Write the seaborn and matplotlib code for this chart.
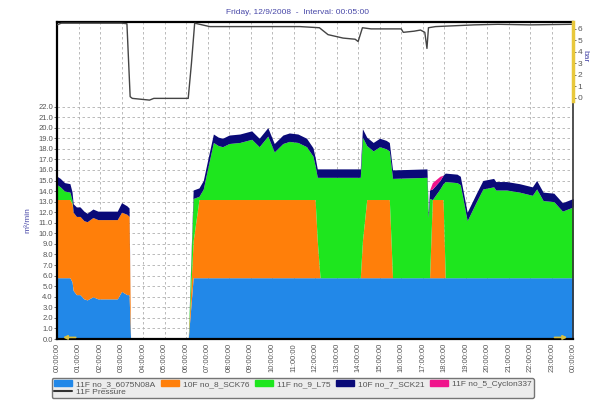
import numpy as np
import matplotlib
matplotlib.use("Agg")
import matplotlib.pyplot as plt
import seaborn as sns
from matplotlib.patches import Patch
from matplotlib.lines import Line2D

# flow readings (m3/min), hours since midnight
hours = [0, 0.15, 0.35, 0.6, 0.7, 0.75, 0.9, 1.07, 1.25, 1.4, 1.67, 1.9, 2.3, 2.8, 3.0, 3.25, 3.35, 3.42,
         6.1, 6.33, 6.6, 6.8, 7.0, 7.27, 7.5, 7.7, 8.0, 8.5, 9.05, 9.4, 9.8, 10.1, 10.5, 10.8, 11.2, 11.6,
         11.9, 12.0, 12.1, 12.23, 14.0, 14.1, 14.2, 14.4, 14.7, 15.0, 15.3, 15.45, 15.6, 17.2, 17.26,
         17.32, 17.45, 17.8, 17.95, 18.05, 18.6, 18.75, 19.07, 19.5, 19.8, 20.3, 20.4, 20.9, 21.5, 22.1,
         22.3, 22.6, 23.1, 23.5, 24.0]
no3 = [5.8, 5.8, 5.8, 5.8, 5.4, 4.6, 4.2, 4.2, 3.8, 3.7, 4.0, 3.8, 3.8, 3.8, 4.5, 4.2, 4.2, 0,
       0, 5.8, 5.8, 5.8, 5.8, 5.8, 5.8, 5.8, 5.8, 5.8, 5.8, 5.8, 5.8, 5.8, 5.8, 5.8, 5.8, 5.8,
       5.8, 5.8, 5.8, 5.8, 5.8, 5.8, 5.8, 5.8, 5.8, 5.8, 5.8, 5.8, 5.8, 5.8, 5.8,
       5.8, 5.8, 5.8, 5.8, 5.8, 5.8, 5.8, 5.8, 5.8, 5.8, 5.8, 5.8, 5.8, 5.8, 5.8,
       5.8, 5.8, 5.8, 5.8, 5.8]
no8 = [7.4, 7.4, 7.4, 7.4, 7.4, 7.4, 7.4, 7.4, 7.4, 7.4, 7.5, 7.5, 7.5, 7.5, 7.5, 7.6, 7.4, 0,
       0, 3.5, 7.4, 7.4, 7.4, 7.4, 7.4, 7.4, 7.4, 7.4, 7.4, 7.4, 7.4, 7.4, 7.4, 7.4, 7.4, 7.4,
       7.4, 7.4, 3.5, 0, 0, 0, 3.5, 7.4, 7.4, 7.4, 7.4, 7.4, 0, 0, 0,
       0, 7.4, 7.4, 7.4, 0, 0, 0, 0, 0, 0, 0, 0, 0, 0, 0,
       0, 0, 0, 0, 0]
no9 = [1.4, 1.2, 0.8, 0.7, 0.3, 0, 0, 0, 0, 0, 0, 0, 0, 0, 0, 0, 0, 0,
       0, 4.0, 0.3, 1.0, 2.9, 5.4, 5.1, 5.0, 5.3, 5.4, 5.7, 5.0, 6.0, 4.5, 5.3, 5.5, 5.4, 5.0,
       4.1, 3.2, 6.0, 9.5, 9.5, 9.5, 9.8, 5.1, 4.6, 5.0, 4.8, 4.6, 9.4, 9.5, 5.7,
       7.5, 0, 1.0, 1.5, 9.1, 9.0, 8.8, 5.4, 7.2, 8.4, 8.6, 8.3, 8.3, 8.1, 7.8,
       8.4, 7.3, 7.2, 6.3, 6.7]
no7 = [0.8, 0.8, 0.8, 0.8, 0.8, 0.8, 0.9, 0.9, 0.9, 0.8, 0.8, 0.8, 0.8, 0.8, 0.9, 0.8, 0.8, 0,
       0, 0.8, 0.8, 0.8, 0.8, 0.8, 0.8, 0.8, 0.8, 0.8, 0.8, 0.8, 0.8, 0.8, 0.8, 0.8, 0.8, 0.8,
       0.8, 0.8, 0.8, 0.8, 0.8, 0.8, 0.8, 0.8, 0.8, 0.8, 0.8, 0.8, 0.8, 0.8, 0.5,
       0.8, 1.0, 0.8, 0.8, 0.8, 0.8, 0.8, 0.8, 0.8, 0.8, 0.8, 0.8, 0.8, 0.8, 0.8,
       0.8, 0.8, 0.8, 0.8, 0.8]
no5 = [0] * 52 + [0.6, 0.4] + [0] * 17

# line pressure (bar)
p_hours = [0, 0.2, 1.5, 3.0, 3.25, 3.4, 3.5, 4.3, 4.5, 6.1, 6.25, 6.4, 7.1, 9.0, 11.3, 12.2, 12.6,
           13.3, 13.86, 14.0, 14.2, 14.6, 16.0, 16.1, 16.6, 16.9, 17.1, 17.2, 17.27, 17.6, 19.4,
           20.5, 22.0, 23.9, 24.0]
pressure = [6.35, 6.5, 6.5, 6.5, 6.45, 0.1, -0.05, -0.2, -0.05, -0.05, 3.0, 6.5, 6.2, 6.2, 6.2, 6.1, 5.5,
            5.2, 5.1, 4.9, 6.1, 6.0, 6.0, 5.7, 5.8, 5.9, 5.7, 4.3, 6.1, 6.2, 6.35,
            6.4, 6.35, 6.4, 6.4]

labels = ["11F no_3_6075N08A", "10F no_8_SCK76", "11F no_9_L75", "10F no_7_SCK21", "11F no_5_Cyclon337"]
colors = ["#2288e8", "#ff7f0a", "#1ee61e", "#0a0a78", "#f0148c"]
tick_labels = ["%02d:00:00" % (h % 24) for h in range(25)]

sns.set_style("white")
plt.rcParams["font.family"] = ["Liberation Sans", "DejaVu Sans"]

fig = plt.figure(figsize=(5.94, 4.0), dpi=100)
ax = fig.add_axes([0.096, 0.1525, 0.869, 0.7925])

ax.stackplot(hours, no3, no8, no9, no7, no5, colors=colors, linewidth=0)
ax.set_xlim(0, 24)
ax.set_ylim(0, 30)
ax.set_yticks(np.arange(0, 23, 1.0))
ax.set_yticklabels(["%.1f" % v for v in np.arange(0, 23, 1.0)], fontsize=5.5, color="#555555")
ax.set_xticks(range(25))
ax.set_xticklabels(tick_labels, rotation=90, fontsize=5.5, color="#555555")
ax.tick_params(axis="both", length=2, width=0.6, pad=1, colors="#555555")
ax.grid(True, linestyle=(0, (3, 3)), color="#b0b0b0", linewidth=0.6)
ax.set_axisbelow(True)
for side in ["left", "top", "bottom"]:
    ax.spines[side].set_color("black")
    ax.spines[side].set_linewidth(1.6)
ax.spines["right"].set_color("#333333")
ax.spines["right"].set_linewidth(1.2)

# small yellow scroll arrows on the time axis
ax.annotate("", xy=(0.15, 0.15), xytext=(1.0, 0.15),
            arrowprops=dict(arrowstyle="-|>", color="#d8c040", lw=1.2, mutation_scale=6))
ax.annotate("", xy=(23.85, 0.15), xytext=(23.0, 0.15),
            arrowprops=dict(arrowstyle="-|>", color="#d8c040", lw=1.2, mutation_scale=6))

ax2 = ax.twinx()
sns.lineplot(x=p_hours, y=pressure, ax=ax2, color="#444444", linewidth=1.0)
ax2.set_ylim(-21, 6.6)
ax2.set_yticks(range(7))
ax2.set_yticklabels([str(v) for v in range(7)], fontsize=6, color="#555555")
ax2.tick_params(axis="y", length=2, width=0.6, pad=1, colors="#555555")
ax2.spines["right"].set_bounds(-0.3, 6.6)
ax2.spines["right"].set_color("#e8c83c")
ax2.spines["right"].set_linewidth(2.5)
for side in ["left", "top", "bottom"]:
    ax2.spines[side].set_visible(False)

fig.text(0.5, 0.968, "Friday, 12/9/2008  -  Interval: 00:05:00", ha="center", va="center",
         fontsize=6, color="#4848a8")
fig.text(0.047, 0.45, "m³/min", rotation=90, ha="center", va="center", fontsize=6, color="#4848a8")
fig.text(0.985, 0.86, "bar", rotation=270, ha="center", va="center", fontsize=6, color="#4848a8")

handles = [Patch(color=colors[0], label=labels[0]),
           Line2D([], [], color="#333333", linewidth=1.5, label="11F Pressure"),
           Patch(color=colors[1], label=labels[1]),
           Patch(color=colors[2], label=labels[2]),
           Patch(color=colors[3], label=labels[3]),
           Patch(color=colors[4], label=labels[4])]
leg = fig.legend(handles=handles, loc="center", bbox_to_anchor=(0.493, 0.03), ncol=5, fontsize=6,
                 frameon=True, fancybox=True, facecolor="#e8e8e8", edgecolor="#555555",
                 handlelength=2.2, handleheight=0.6, columnspacing=0.6, labelspacing=0.05,
                 borderpad=0.25, handletextpad=0.5)
for t in leg.get_texts():
    t.set_color("#555555")

fig.savefig("out.png", dpi=100)
